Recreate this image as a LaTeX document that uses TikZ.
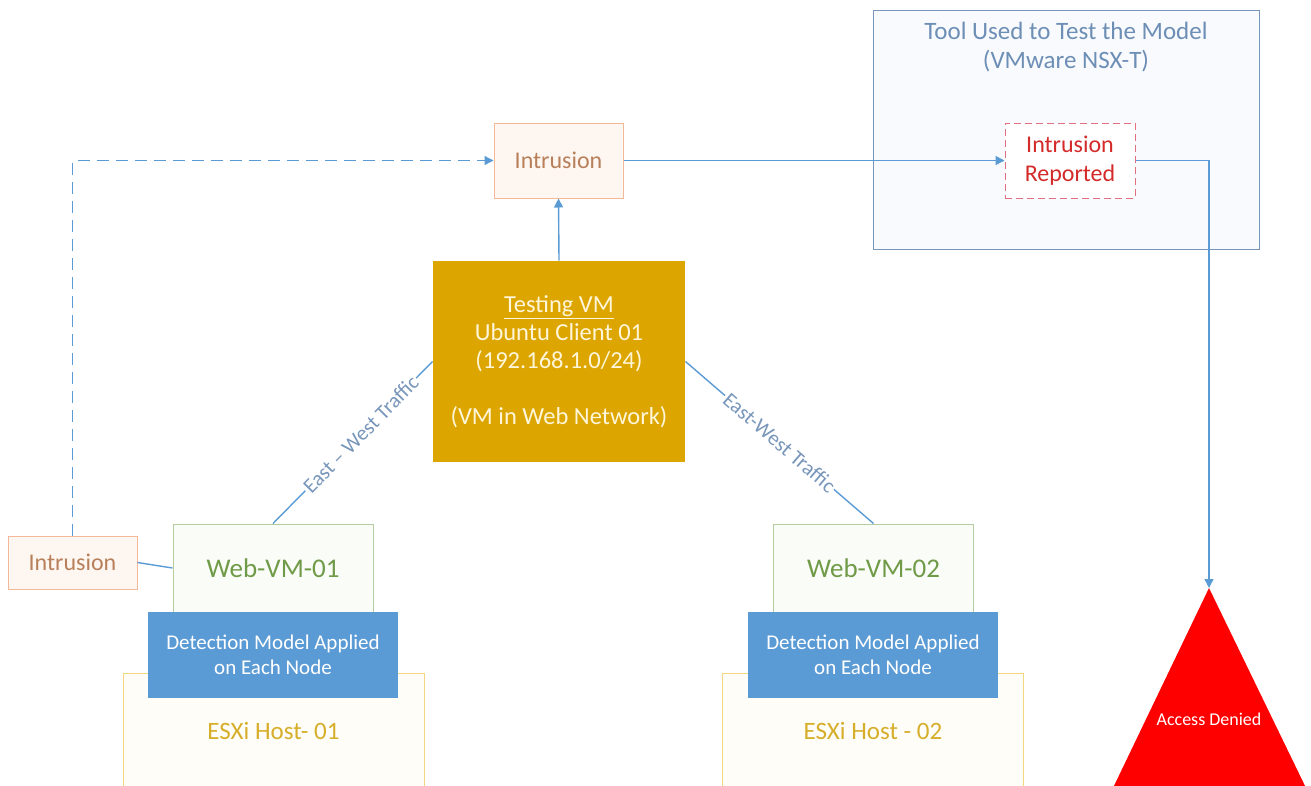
\documentclass[tikz,border=0pt]{standalone}
\usepackage{fontspec}
\setmainfont{Carlito}
\usepackage{tikz}
\usetikzlibrary{arrows.meta,positioning}
\usepackage{xcolor}
\definecolor{linkblue}{HTML}{5B9BD5}
\definecolor{intrtext}{HTML}{B8805A}
\definecolor{intrborder}{HTML}{F2B897}
\definecolor{intrfill}{HTML}{FEF6F1}
\definecolor{toolblue}{HTML}{7896BA}
\definecolor{tooltext}{HTML}{6D8EB5}
\definecolor{toolfill}{HTML}{F8FAFD}
\definecolor{repred}{HTML}{D42A2A}
\definecolor{repborder}{HTML}{E07080}
\definecolor{webgreen}{HTML}{6F9A47}
\definecolor{webborder}{HTML}{B5CCA0}
\definecolor{webfill}{HTML}{FAFCF8}
\definecolor{hostgold}{HTML}{D6AE2A}
\definecolor{hostborder}{HTML}{F2D680}
\definecolor{hostfill}{HTML}{FFFDF7}
\definecolor{testgold}{HTML}{DCA500}
\definecolor{testtext}{HTML}{FFF6DA}
\definecolor{detblue}{HTML}{5B9BD5}
\definecolor{denyred}{HTML}{FF0000}

\begin{document}
\begin{tikzpicture}[x=1pt,y=-1pt,
  box/.style={rectangle,draw,inner sep=0pt,align=center,line width=1pt},
  intrbox/.style={box,draw=intrborder,fill=intrfill,text=intrtext,font=\fontsize{24}{28}\selectfont},
  webbox/.style={box,draw=webborder,fill=webfill,text=webgreen,minimum width=200,minimum height=88,font=\fontsize{27}{30}\selectfont},
  detbox/.style={box,draw=none,fill=detblue,text=white,minimum width=250,minimum height=86,font=\fontsize{21}{25}\selectfont},
  hostbox/.style={box,draw=hostborder,fill=hostfill,text=hostgold,minimum width=301,minimum height=116,font=\fontsize{25}{28}\selectfont},
  link/.style={linkblue,line width=1.4pt},
  arr/.style={link,-{Triangle[length=9pt,width=9pt]}},
  trafficlbl/.style={midway,sloped,fill=white,inner sep=1.5pt,text=toolblue,font=\fontsize{21}{24}\selectfont}]
  \useasboundingbox (0,0) rectangle (1311,785);
  % Test tool
  \node[box,draw=toolblue,fill=toolfill,minimum width=386,minimum height=239,
    label={[anchor=north,yshift=-9pt,align=center,text=tooltext,font=\fontsize{25}{29}\selectfont]north:Tool Used to Test the Model\\(VMware NSX-T)}]
    (tool) at (1066,129.5) {};
  \node[box,dash pattern=on 7pt off 4pt,draw=repborder,fill=white,text=repred,minimum width=130,minimum height=75,
    font=\fontsize{24}{29}\selectfont] (rep) at (1070,160.5) {Intrusion\\Reported};
  % Intrusions
  \node[intrbox,minimum width=129,minimum height=75] (intrTop) at (558.5,160.5) {Intrusion};
  \node[intrbox,minimum width=129,minimum height=53] (intrLeft) at (72.5,562.5) {Intrusion};
  % Testing VM
  \node[box,draw=none,fill=testgold,text=testtext,minimum width=252,minimum height=201,
    font=\fontsize{24.5}{28}\selectfont] (test) at (559,361.5)
    {\underline{Testing VM}\\Ubuntu Client 01\\(192.168.1.0/24)\\[28pt](VM in Web Network)};
  % Web VMs on their hosts
  \node[webbox] (web1) at (273,568) {Web-VM-01};
  \node[hostbox] (esx1) at (273.5,731) {ESXi Host- 01};
  \node[detbox] (det1) at (273,655) {Detection Model Applied\\on Each Node};
  \node[webbox] (web2) at (873.5,568) {Web-VM-02};
  \node[hostbox] (esx2) at (873,731) {ESXi Host - 02};
  \node[detbox] (det2) at (873,655) {Detection Model Applied\\on Each Node};
  % Access denied
  \fill[denyred] (1112,790) -- (1209,588) -- (1307,790) -- cycle;
  \coordinate (apex) at (1209,588);
  \node[text=white,font=\fontsize{18}{20}\selectfont] (deny) at (1209,719) {Access Denied};
  % Connectors
  \draw[arr] (test.north) -- (intrTop.south);
  \draw[arr] (intrTop.east) -- (rep.west);
  \draw[arr] (rep.east) -| (apex);
  \draw[arr,dash pattern=on 12pt off 7pt] (intrLeft.north) |- (intrTop.west);
  \draw[link] (intrLeft.east) -- (web1.west);
  \draw[link] (test.west) -- node[trafficlbl,pos=0.45] {East -- West Traffic} (web1.north);
  \draw[link] (test.east) -- node[trafficlbl,pos=0.5] {East-West Traffic} (web2.north);
\end{tikzpicture}
\end{document}
